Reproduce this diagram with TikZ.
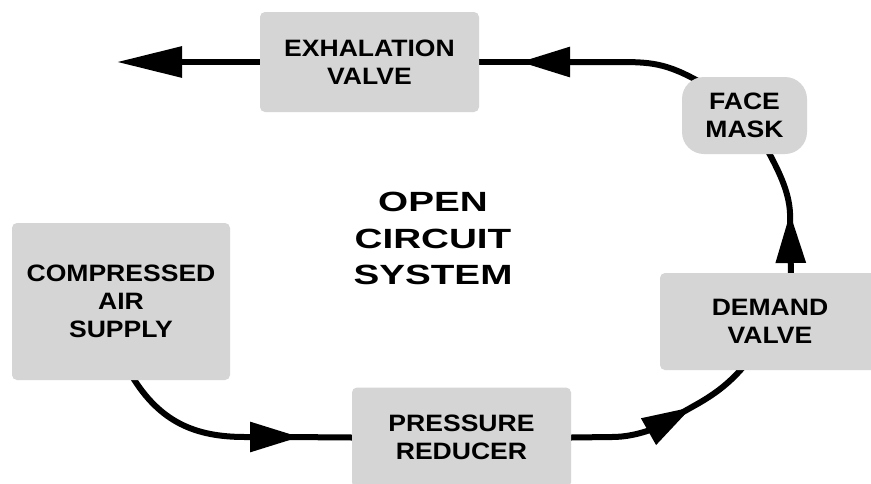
\documentclass[tikz,border=0pt]{standalone}
\usepackage{fontspec}
\usetikzlibrary{arrows.meta,calc,backgrounds}
\newfontfamily\boxfont{Liberation Sans}[FakeStretch=1.12]
\newfontfamily\titlefont{Liberation Sans}[FakeStretch=1.39]
\definecolor{boxgray}{RGB}{213,213,213}
\begin{document}
\begin{tikzpicture}[x=1pt,y=-1pt,
  blk/.style={fill=boxgray, rounded corners=5pt, align=center, inner sep=0pt,
    font=\boxfont\bfseries\fontsize{23.7}{28}\selectfont},
  conn/.style={line width=6pt, draw=black},
  midarrow/.style={-{Triangle[length=50pt,width=29pt]}},
  endarrow/.style={-{Triangle[length=65pt,width=30pt]}},
  ttl/.style={align=center, inner sep=0pt,
    font=\titlefont\bfseries\fontsize{27.8}{36.7}\selectfont}]
\useasboundingbox (0,0) rectangle (871,483);
\clip (0,0) rectangle (871,483);
% nodes
\node[blk, minimum width=219pt, minimum height=100pt] (exh) at (369.5,62) {EXHALATION\\VALVE};
\node[blk, rounded corners=22pt, minimum width=125pt, minimum height=77pt] (fm) at (744.5,115.5) {FACE\\MASK};
\node[blk, minimum width=218pt, minimum height=157pt] (cas) at (121,301.5) {COMPRESSED\\AIR\\SUPPLY};
\node[blk, minimum width=219pt, minimum height=100pt] (pr) at (461.5,437.5) {PRESSURE\\REDUCER};
\node[blk, minimum width=220pt, minimum height=97pt] (dv) at (770,321.5) {DEMAND\\VALVE};
\node[ttl] (title) at (433,238.5) {OPEN\\CIRCUIT\\SYSTEM};
% free ends / arrow tips
\coordinate (out) at (117,62);
\coordinate (tipB) at (520,62);
\coordinate (tipC) at (790,213);
\coordinate (tipD) at (692,407);
\coordinate (tipE) at (300,437);
\begin{scope}[on background layer]
\fill[white] (0,0) rectangle (871,483);
% exhalation -> outside
\draw[conn,endarrow] (exh.west) -- (out);
% face mask -> exhalation
\draw[conn,midarrow] ($(fm.north west)+(28,11)$) .. controls (670,64) and (655,62) .. (620,62) -- (tipB);
\draw[conn] ($(tipB)+(14,0)$) -- (exh.east);
% demand valve -> face mask
\draw[conn,midarrow] ($(dv.north)+(21,8)$) -- (tipC);
\draw[conn] ($(tipC)+(0,14)$) -- (tipC) .. controls (789,190) and (777,168) .. ($(fm.south)+(22,-6)$);
% pressure reducer -> demand valve
\draw[conn,midarrow] (pr.east) -- (612,437) .. controls (640,437) and (662,424) .. (tipD);
\draw[conn] ($(tipD)+(-12.2,6.9)$) -- (tipD) .. controls (712,396) and (728,385) .. ($(dv.south west)+(84,-4)$);
% compressed air -> pressure reducer
\draw[conn,midarrow] ($(cas.south)+(11,-4)$) .. controls (160,422) and (195,437) .. (245,437) -- (tipE);
\draw[conn] ($(tipE)+(-14,0)$) -- (pr.west);
\end{scope}
\end{tikzpicture}
\end{document}
